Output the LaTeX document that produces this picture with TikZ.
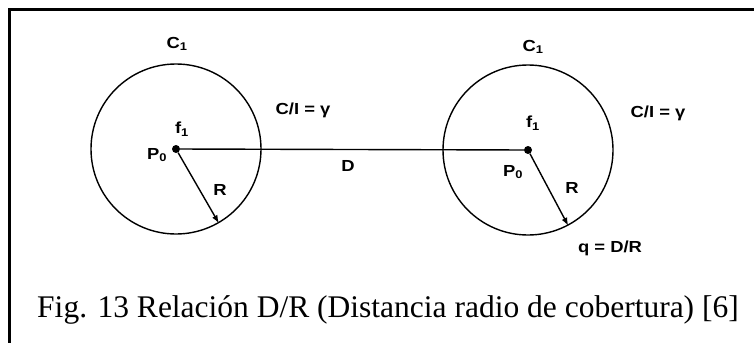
\documentclass[tikz,border=0pt]{standalone}
\usepackage{fontspec}
\setmainfont{Liberation Serif}
\newfontfamily\lblfont[FakeStretch=1.15]{Liberation Sans Bold}
\usepackage{tikz}
\usetikzlibrary{arrows.meta,positioning}

\begin{document}
\begin{tikzpicture}[x=1pt,y=-1pt,
  ring/.style={draw,circle,line width=1.4pt,minimum size=170pt,inner sep=0pt},
  dot/.style={circle,fill,inner sep=0pt,minimum size=8pt},
  lbl/.style={font=\lblfont\fontsize{16}{18}\selectfont,inner sep=1pt},
  arr/.style={-{Latex[length=8pt,width=6pt]},line width=1.4pt}
]
\useasboundingbox (0,0) rectangle (754,343);
\draw[line width=3pt] (754,9) -- (9,9) -- (9,343);

% the two cells
\node[ring] (c1) at (176,149) {};
\node[ring] (c2) at (528,150) {};
\node[dot] (p1) at (c1.center) {};
\node[dot] (p2) at (c2.center) {};

\draw[line width=1.4pt] (p1) -- (p2);
\draw[arr] (p1) -- (c1.-60);
\draw[arr] (p2) -- (c2.-62);

% labels
\node[lbl] (cl1) at (177,44) {C\textsubscript{1}};
\node[lbl] (cl2) at (533,47) {C\textsubscript{1}};
\node[lbl] (ci1) at (303,110) {C/I = γ};
\node[lbl] (ci2) at (658,113) {C/I = γ};
\node[lbl] (f1) at (182,129) {f\textsubscript{1}};
\node[lbl] (f2) at (533,123) {f\textsubscript{1}};
\node[lbl] (pl1) at (157,155) {P\textsubscript{0}};
\node[lbl] (pl2) at (513,172) {P\textsubscript{0}};
\node[lbl] (r1) at (220,190) {R};
\node[lbl] (r2) at (572,188) {R};
\node[lbl] (d) at (348,166) {D};
\node[lbl] (q) at (610,248) {q = D/R};

\node[font=\fontsize{31.5}{33}\selectfont,inner sep=0pt,anchor=base] (cap) at (388,317)
  {Fig. 13 Relación D/R (Distancia radio de cobertura) [6]};
\end{tikzpicture}
\end{document}
